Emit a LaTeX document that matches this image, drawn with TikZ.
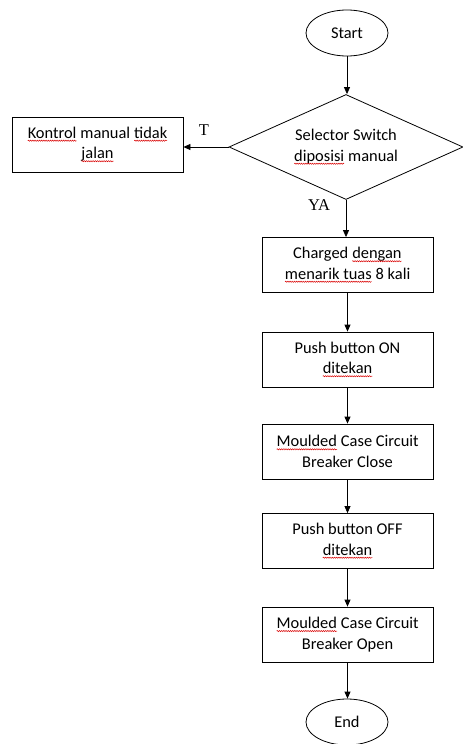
\documentclass[tikz,border=0pt]{standalone}
\usepackage{fontspec}
\setmainfont{Carlito}
\newfontfamily\serifT{Liberation Serif}
\usetikzlibrary{shapes.geometric,arrows.meta,decorations.pathmorphing}
\newcommand\fs{\fontsize{16.4bp}{20.5bp}\selectfont}
\newcommand\sq[1]{\tikz[baseline=(w.base)]{\node[draw=none,fill=none,rectangle,inner sep=0pt,outer sep=0pt,minimum width=0pt,minimum height=0pt,text width={}] (w) {#1};
 \draw[draw=red!85!black,line width=0.5bp,decorate,decoration={snake,amplitude=0.6bp,segment length=2.2bp}] ([yshift=-2.4bp]w.base west) -- ([yshift=-2.4bp]w.base east);}}
\tikzset{
 proc/.style={draw, rectangle, minimum width=171bp, minimum height=55bp, align=center, inner sep=0pt, font=\fs, line width=0.8bp},
 term/.style={draw, ellipse, minimum width=82bp, minimum height=46bp, inner sep=0pt, font=\fs, line width=0.8bp},
 dec/.style={draw, diamond, aspect=2.25, minimum width=234bp, minimum height=105bp, inner sep=0pt, align=center, font=\fs, line width=0.8bp},
 arr/.style={-{Triangle[length=7bp,width=6bp]}, line width=0.8bp},
 lab/.style={font=\serifT\fontsize{16.5bp}{19bp}\selectfont, inner sep=0pt}
}
\begin{document}
\begin{tikzpicture}[x=1bp,y=-1bp]
\useasboundingbox (0,0) rectangle (463,744);
\node[term] (start) at (347,33) {Start};
\node[dec] (sel) at (346,147) {Selector Switch\\\sq{diposisi} manual};
\node[proc] (ko) at (97.5,144.5) {\sq{Kontrol} manual \sq{tidak}\\\sq{jalan}};
\node[proc] (b1) at (347.5,265) {Charged \sq{dengan}\\\sq{menarik tuas} 8 kali};
\node[proc] (b2) at (347.5,359.5) {Push button ON\\\sq{ditekan}};
\node[proc] (b3) at (347.5,451.5) {\sq{Moulded} Case Circuit\\Breaker Close};
\node[proc] (b4) at (347.5,541) {Push button OFF\\\sq{ditekan}};
\node[proc] (b5) at (347.5,634.5) {\sq{Moulded} Case Circuit\\Breaker Open};
\node[term] (end) at (347,722) {End};
\node[lab] (t) at (204,130) {T};
\node[lab] (ya) at (319,205) {YA};
\draw[arr] (start) -- (start |- sel.north);
\draw[arr] (sel.west) -- (ko.east |- sel.west);
\draw[arr] (sel.south) -- (sel.south |- b1.north);
\draw[arr] (b1) -- (b2);
\draw[arr] (b2) -- (b3);
\draw[arr] (b3) -- (b4);
\draw[arr] (b4) -- (b5);
\draw[arr] (b5) -- (b5 |- end.north);
\end{tikzpicture}
\end{document}
